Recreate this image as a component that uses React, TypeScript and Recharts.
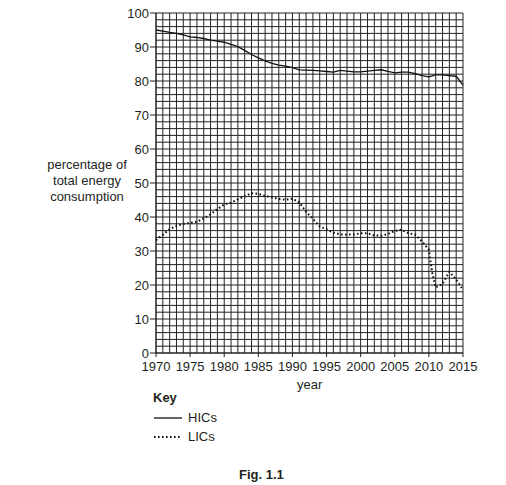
import { LineChart, Line, XAxis, YAxis, ReferenceLine } from 'recharts';

// HICs, one value per year
const hicYears = [
  1970, 1971, 1972, 1973, 1974, 1975, 1976, 1977, 1978, 1979,
  1980, 1981, 1982, 1983, 1984, 1985, 1986, 1987, 1988, 1989,
  1990, 1991, 1992, 1993, 1994, 1995, 1996, 1997, 1998, 1999,
  2000, 2001, 2002, 2003, 2004, 2005, 2006, 2007, 2008, 2009,
  2010, 2011, 2012, 2013, 2014, 2015,
];
const hicValues = [
  95.0, 94.7, 94.3, 94.0, 93.6, 93.0, 92.8, 92.5, 92.0, 91.7,
  91.4, 90.8, 90.1, 89.0, 87.8, 86.8, 85.9, 85.2, 84.7, 84.4,
  83.9, 83.3, 83.2, 83.1, 83.0, 82.8, 82.6, 83.1, 82.9, 82.7,
  82.7, 82.9, 83.1, 83.3, 82.8, 82.4, 82.6, 82.6, 82.2, 81.6,
  81.2, 81.8, 81.8, 81.6, 81.4, 78.8,
];

// LICs (extra point mid-2010 for the sharp drop)
const licYears = [
  1970, 1971, 1972, 1973, 1974, 1975, 1976, 1977, 1978, 1979,
  1980, 1981, 1982, 1983, 1984, 1985, 1986, 1987, 1988, 1989,
  1990, 1991, 1992, 1993, 1994, 1995, 1996, 1997, 1998, 1999,
  2000, 2001, 2002, 2003, 2004, 2005, 2006, 2007, 2008, 2009,
  2010, 2010.5, 2011, 2012, 2013, 2014, 2015,
];
const licValues = [
  33.2, 34.8, 36.4, 37.4, 37.9, 38.3, 38.6, 39.6, 40.8, 42.3,
  43.7, 44.2, 45.2, 46.1, 47.0, 46.8, 46.2, 45.8, 45.3, 45.1,
  45.4, 44.3, 41.5, 39.5, 37.2, 36.4, 35.4, 34.9, 34.8, 34.9,
  35.2, 35.2, 34.6, 34.5, 35.0, 35.9, 36.3, 35.2, 34.8, 32.8,
  30.4, 23.5, 19.3, 20.3, 23.9, 21.6, 18.6,
];

const xTicks = [1970, 1975, 1980, 1985, 1990, 1995, 2000, 2005, 2010, 2015];
const yTicks = [0, 10, 20, 30, 40, 50, 60, 70, 80, 90, 100];
const gridYears = Array.from({ length: 46 }, (_, i) => 1970 + i);
const gridValues = Array.from({ length: 51 }, (_, i) => i * 2);

const hicData = hicYears.map((year, i) => ({ year, value: hicValues[i] }));
const licData = licYears.map((year, i) => ({ year, value: licValues[i] }));

const ink = '#231f20';
const font = '"Liberation Sans", Arial, sans-serif';

const abs = (left: number, top: number, extra: any = {}) => ({
  position: 'absolute' as const,
  left,
  top,
  fontSize: 13,
  lineHeight: '16px',
  color: ink,
  whiteSpace: 'nowrap' as const,
  ...extra,
});

export default function App() {
  return (
    <div style={{ position: 'absolute', left: 0, top: 0, width: 506, height: 485, fontFamily: font, background: '#fff' }}>
      <LineChart
        width={506}
        height={485}
        margin={{ top: 13, right: 43, bottom: 102, left: 116 }}
      >
        {gridYears.map((y) => (
          <ReferenceLine key={'gx' + y} x={y} stroke="#222" strokeWidth={1} ifOverflow="visible" />
        ))}
        {gridValues.map((v) => (
          <ReferenceLine key={'gy' + v} y={v} stroke="#222" strokeWidth={1} ifOverflow="visible" />
        ))}
        <XAxis
          dataKey="year"
          type="number"
          domain={[1970, 2015]}
          ticks={xTicks}
          allowDuplicatedCategory={false}
          height={30}
          tickSize={4}
          tickMargin={5}
          stroke={ink}
          tick={{ fill: ink, fontSize: 13, fontFamily: font }}
          interval={0}
        />
        <YAxis
          type="number"
          domain={[0, 100]}
          ticks={yTicks}
          width={40}
          tickSize={6}
          tickMargin={1}
          stroke={ink}
          tick={{ fill: ink, fontSize: 13, fontFamily: font }}
          interval={0}
        />
        <Line
          data={hicData}
          dataKey="value"
          type="linear"
          stroke="#111"
          strokeWidth={1.3}
          dot={false}
          isAnimationActive={false}
        />
        <Line
          data={licData}
          dataKey="value"
          type="linear"
          stroke="#111"
          strokeWidth={2}
          strokeDasharray="1.6 2.4"
          dot={false}
          isAnimationActive={false}
        />
      </LineChart>

      <div style={abs(22, 157, { width: 130, textAlign: 'center', whiteSpace: 'normal' })}>
        percentage of<br />total energy<br />consumption
      </div>
      <div style={abs(297, 377)}>year</div>

      <div style={abs(153, 390, { fontWeight: 'bold' })}>Key</div>
      <svg style={{ position: 'absolute', left: 150, top: 410 }} width={36} height={36}>
        <line x1={4} y1={8} x2={32} y2={8} stroke="#111" strokeWidth={1.3} />
        <line x1={4} y1={27} x2={30} y2={27} stroke="#111" strokeWidth={2} strokeDasharray="1.6 2.4" />
      </svg>
      <div style={abs(188, 410)}>HICs</div>
      <div style={abs(188, 429)}>LICs</div>

      <div style={abs(239, 467, { fontWeight: 'bold' })}>Fig. 1.1</div>
    </div>
  );
}
